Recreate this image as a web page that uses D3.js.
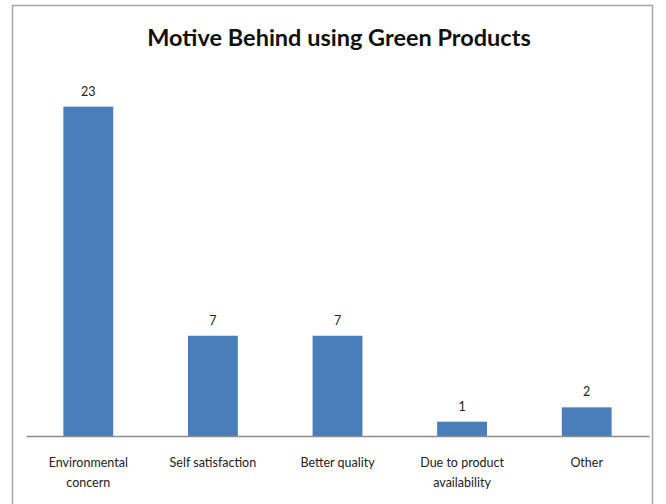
<!DOCTYPE html>
<html>
<head>
<meta charset="utf-8">
<script src="https://cdn.jsdelivr.net/npm/d3@7"></script>
<style>
  html, body { margin: 0; padding: 0; background: #fff; }
  svg { display: block; }
</style>
</head>
<body>
<svg id="chart" width="666" height="504"></svg>
<script>
// Survey responses: motive behind using green products
const categories = [
  ["Environmental", "concern"],
  ["Self satisfaction"],
  ["Better quality"],
  ["Due to product", "availability"],
  ["Other"]
];
const values = [23, 7, 7, 1, 2];
const title = "Motive Behind using Green Products";

const svg = d3.select("#chart");
const fontFamily = "Lato, 'Open Sans', 'DejaVu Sans', sans-serif";

// Outer chart frame
svg.append("rect")
  .attr("x", 12.5).attr("y", 5.5)
  .attr("width", 640).attr("height", 520)
  .attr("fill", "#fff")
  .attr("stroke", "#a6a6a6")
  .attr("stroke-width", 1.5);

// Title
svg.append("text")
  .attr("x", 339).attr("y", 46)
  .attr("text-anchor", "middle")
  .attr("font-family", fontFamily)
  .attr("font-weight", "bold")
  .attr("font-size", 23.5)
  .attr("fill", "#111")
  .text(title);

const idx = d3.range(values.length);
const x = d3.scaleBand()
  .domain(idx)
  .range([26, 649])
  .paddingInner(0.6)
  .paddingOuter(0.3);

const y = d3.scaleLinear()
  .domain([0, 25])
  .range([436, 78]);

// Bars
svg.append("g")
  .selectAll("rect")
  .data(idx)
  .join("rect")
  .attr("x", i => x(i))
  .attr("y", i => y(values[i]))
  .attr("width", x.bandwidth())
  .attr("height", i => y(0) - y(values[i]))
  .attr("fill", "#4a7ebb");

// Value labels
svg.append("g")
  .selectAll("text")
  .data(idx)
  .join("text")
  .attr("x", i => x(i) + x.bandwidth() / 2)
  .attr("y", i => y(values[i]) - 11)
  .attr("text-anchor", "middle")
  .attr("font-family", fontFamily)
  .attr("font-size", 12.5)
  .attr("fill", "#222")
  .text(i => values[i]);

// Category axis
const axis = d3.axisBottom(x).tickSize(0).tickFormat(() => "");
const gx = svg.append("g")
  .attr("transform", `translate(0,${y(0)})`)
  .call(axis);
gx.select(".domain").attr("stroke", "#8c8c8c").attr("stroke-width", 1.5);

// Multi-line category labels
const labels = svg.append("g")
  .selectAll("text")
  .data(idx)
  .join("text")
  .attr("x", i => x(i) + x.bandwidth() / 2)
  .attr("y", 467)
  .attr("text-anchor", "middle")
  .attr("font-family", fontFamily)
  .attr("font-size", 12.5)
  .attr("fill", "#222");
labels.selectAll("tspan")
  .data(i => categories[i].map((line, k) => ({ line, k, i })))
  .join("tspan")
  .attr("x", d => x(d.i) + x.bandwidth() / 2)
  .attr("dy", d => d.k === 0 ? 0 : 20)
  .text(d => d.line);
</script>
</body>
</html>
